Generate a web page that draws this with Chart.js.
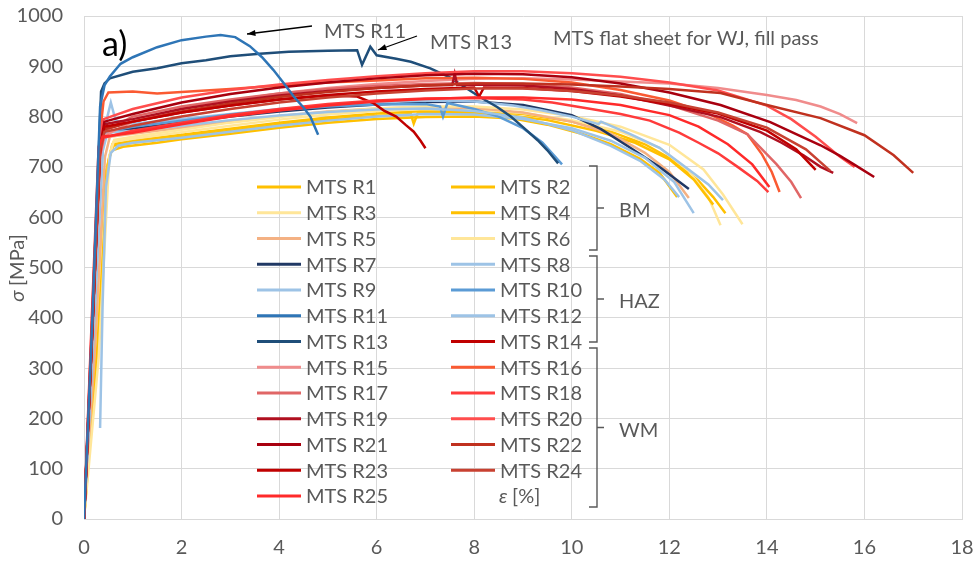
<!DOCTYPE html>
<html>
<head>
<meta charset="utf-8">
<script src="https://cdn.jsdelivr.net/npm/chart.js@4.4.1/dist/chart.umd.min.js"></script>
<style>
  body { margin: 0; background: #fff; }
  #wrap { width: 976px; height: 561px; }
</style>
</head>
<body>
<div id="wrap"><canvas id="grafico" width="976" height="561"></canvas></div>
<script>
// ensayos de traccion MTS, deformacion [%] vs tension [MPa]
const nombres = ["MTS R1","MTS R2","MTS R3","MTS R4","MTS R5","MTS R6","MTS R7","MTS R8","MTS R9","MTS R10",
  "MTS R11","MTS R12","MTS R13","MTS R14","MTS R15","MTS R16","MTS R17","MTS R18","MTS R19","MTS R20",
  "MTS R21","MTS R22","MTS R23","MTS R24","MTS R25"];

const colores = ["#FFC000","#FFC000","#FFE699","#FFC000","#F4B183","#FFE699","#203864","#9DC3E6","#9DC3E6","#5B9BD5",
  "#2E75B6","#9DC3E6","#1F4E79","#C00000","#F08C8C","#FA5A32","#E06666","#FF3B3B","#B01020","#FF4D4D",
  "#A8000F","#C0311F","#C00000","#C84131","#FF2A2A"];

const xTicks = [0, 2, 4, 6, 8, 10, 12, 14, 16, 18];
const yTicks = [0, 100, 200, 300, 400, 500, 600, 700, 800, 900, 1000];

// BM
const r1 = [[0,0],[0.22,300],[0.45,690],[0.55,732],[0.8,740],[1.5,748],[2,755],[3,766],[4,778],[5,788],[6,795],[7,799],[8,800],[8.8,796],[9.5,784],[10.2,766],[10.8,745],[11.4,716],[11.8,688],[12.16,640]];
const r2 = [[0,0],[0.25,320],[0.48,700],[0.58,745],[1,752],[2,764],[3,776],[4,788],[5,798],[6,806],[7,811],[8,811],[9,805],[10,790],[10.8,770],[11.5,745],[12.1,712],[12.6,672],[12.9,640],[13.15,608]];
const r3 = [[0,0],[0.2,280],[0.5,715],[0.6,750],[1,756],[2,769],[3,782],[4,794],[5,804],[6,811],[7,815],[8,814],[9,807],[10,793],[11,770],[11.8,738],[12.4,692],[12.8,640],[13.05,584]];
const r4 = [[0,0],[0.28,350],[0.5,712],[0.6,742],[1,748],[2,760],[3,772],[4,784],[5,794],[6,801],[6.7,805],[6.76,786],[6.84,806],[7.5,808],[8.5,805],[9.5,793],[10.5,772],[11.3,748],[12,715],[12.5,675],[12.9,625]];
const r5 = [[0,0],[0.22,330],[0.43,720],[0.53,760],[1,766],[2,778],[3,790],[4,801],[5,810],[6,816],[7,819],[8,817],[9,808],[10,790],[10.8,766],[11.5,728],[12,690],[12.4,638]];
const r6 = [[0,0],[0.3,320],[0.52,720],[0.62,754],[1,760],[2,774],[3,788],[4,799],[5,809],[6,816],[7,820],[8,820],[9,814],[10,801],[11,780],[12,744],[12.7,695],[13.1,645],[13.5,586]];
// HAZ
const r7 = [[0,0],[0.2,420],[0.36,745],[0.45,768],[1,776],[2,788],[3,800],[4,810],[5,818],[6,824],[7,829],[8,830],[9,823],[10,803],[10.6,775],[11.2,738],[11.8,700],[12.4,656]];
const r8 = [[0,0],[0.22,420],[0.4,760],[0.48,800],[0.55,828],[0.65,792],[1,786],[2,795],[3,805],[4,815],[5,822],[6,828],[7,832],[8,830],[8.8,822],[9.35,813],[10,800],[10.55,785],[10.6,790],[11.2,765],[11.8,738],[12.3,702],[12.8,665],[13.1,634]];
const r9 = [[0.33,181],[0.38,420],[0.45,660],[0.55,728],[0.7,742],[1,748],[2,758],[3,770],[4,782],[5,792],[6,800],[7,805],[8,804],[9,795],[10,777],[10.8,752],[11.5,718],[12.1,670],[12.5,608]];
const r10 = [[0,0],[0.2,390],[0.37,745],[0.47,770],[1,780],[2,792],[3,804],[4,813],[5,820],[6,824],[7,825],[7.3,820],[7.36,800],[7.45,827],[8,815],[8.5,800],[9,777],[9.4,748],[9.8,705]];
const r11 = [[0,0],[0.18,420],[0.33,820],[0.42,862],[0.53,880],[0.75,905],[1,918],[1.5,938],[2,952],[2.5,959],[2.8,962],[3.1,958],[3.4,940],[3.65,918],[3.88,893],[4.1,866],[4.3,840],[4.5,818],[4.64,800],[4.8,764]];
const r12 = [[0,0],[0.2,380],[0.38,730],[0.48,768],[1,772],[2,782],[3,793],[4,802],[5,809],[6,814],[7,816],[8,811],[9,798],[10,773],[10.8,742],[11.4,712],[11.9,675],[12.2,640]];
const r13 = [[0,0],[0.18,420],[0.35,850],[0.42,866],[0.53,876],[1,889],[1.5,896],[2,906],[2.5,912],[3,920],[3.6,925],[4.2,929],[5,931],[5.6,932],[5.7,903],[5.87,939],[6,922],[6.4,915],[6.7,909],[7.1,896],[7.5,878],[7.8,859],[8.1,840],[8.47,819],[8.75,800],[9,779],[9.3,753],[9.5,733],[9.72,707]];
// WM
const r14 = [[0,0],[0.18,400],[0.33,730],[0.42,775],[1,790],[2,808],[3,822],[4,834],[5,842],[5.6,840],[5.93,827],[6.15,812],[6.4,800],[6.6,783],[6.76,770],[6.9,752],[7,737]];
const r15 = [[0,0],[0.18,390],[0.33,720],[0.42,762],[1,790],[2,815],[3,832],[4,846],[5,857],[6,865],[7,871],[8,875],[9,876],[10,874],[11,870],[12,866],[13,857],[14,843],[14.6,833],[15.1,820],[15.5,805],[15.85,787]];
const r16 = [[0,0],[0.18,410],[0.32,760],[0.4,830],[0.5,848],[1,850],[1.5,846],[2,849],[3,855],[4,862],[5,868],[6,872],[7,876],[8,877],[9,875],[10,868],[11,853],[12,832],[12.8,806],[13.3,782],[13.6,765],[13.9,725],[14.1,690],[14.26,650]];
const r17 = [[0,0],[0.18,390],[0.33,730],[0.42,772],[1,800],[2,820],[3,834],[4,846],[5,855],[6,861],[7,865],[8,867],[9,865],[10,858],[11,845],[12,823],[13,792],[13.6,765],[14.2,705],[14.5,670],[14.7,638]];
const r18 = [[0,0],[0.17,390],[0.32,720],[0.4,758],[1,772],[2,788],[3,803],[4,815],[5,825],[6,832],[7,836],[8,837],[9,834],[9.6,828],[10.4,815],[11,805],[11.6,792],[12.2,768],[12.6,748],[13,727],[13.4,700],[13.8,672],[14.03,650]];
const r19 = [[0,0],[0.18,400],[0.33,740],[0.42,785],[1,795],[2,815],[3,830],[4,842],[5,851],[6,857],[7,862],[7.55,863],[7.6,885],[7.65,863],[8,864],[9,862],[10,855],[11,842],[12,822],[13.05,799],[13.87,769],[14.3,748],[14.75,723],[15.1,700],[15.36,688]];
const r20 = [[0,0],[0.17,410],[0.32,760],[0.4,795],[1,815],[2,838],[3,853],[4,864],[5,873],[6,880],[7,886],[8,890],[9,890],[10,886],[11,879],[12,868],[13,852],[14,822],[14.5,795],[15,760],[15.5,720],[15.8,700]];
const r21 = [[0,0],[0.18,400],[0.33,740],[0.42,790],[1,805],[2,828],[3,845],[4,858],[5,868],[6,876],[7,882],[8,885],[9,884],[10,878],[11,866],[12,848],[13.05,823],[14.07,789],[14.6,765],[15.1,743],[15.5,722],[15.8,704],[16.2,680]];
const r22 = [[0,0],[0.18,400],[0.33,735],[0.42,775],[1,790],[2,810],[3,826],[4,839],[5,849],[6,857],[7,862],[8,866],[9,866],[10,864],[11,860],[12,855],[13.05,847],[14,823],[15.1,797],[16,763],[16.6,723],[17,688]];
const r23 = [[0,0],[0.18,400],[0.33,740],[0.42,780],[1,790],[2,808],[3,822],[4,834],[5,843],[6,850],[7,855],[8,858],[8.1,840],[8.2,858],[9,857],[10,851],[11,840],[12,825],[13,806],[14,772],[14.6,735],[15,694]];
const r24 = [[0,0],[0.18,400],[0.33,735],[0.42,770],[1,782],[2,800],[3,815],[4,828],[5,838],[6,846],[7,852],[8,856],[9,856],[10,851],[11,842],[12,828],[13,808],[14,778],[14.8,735],[15.3,692]];
const r25 = [[0,0],[0.16,400],[0.3,740],[0.38,760],[1,768],[2,785],[3,800],[4,812],[5,822],[6,830],[7,835],[8,838],[9,838],[10,834],[11,823],[12,803],[12.6,780],[13.2,745],[13.7,705],[14.05,660]];

const series = [r1,r2,r3,r4,r5,r6,r7,r8,r9,r10,r11,r12,r13,r14,r15,r16,r17,r18,r19,r20,r21,r22,r23,r24,r25];

const grupos = [
  { nombre: "BM", top: 166, bottom: 250 },
  { nombre: "HAZ", top: 256, bottom: 342 },
  { nombre: "WM", top: 348, bottom: 507 }
];

const FUENTE = 'Lato, "Liberation Sans", sans-serif';
const GRIS = "#595959";

function flecha(ctx, x1, y1, x2, y2) {
  ctx.save();
  ctx.strokeStyle = "#000";
  ctx.fillStyle = "#000";
  ctx.lineWidth = 1.3;
  ctx.beginPath();
  ctx.moveTo(x1, y1);
  ctx.lineTo(x2, y2);
  ctx.stroke();
  const ang = Math.atan2(y2 - y1, x2 - x1);
  ctx.beginPath();
  ctx.moveTo(x2, y2);
  ctx.lineTo(x2 - 9 * Math.cos(ang - 0.35), y2 - 9 * Math.sin(ang - 0.35));
  ctx.lineTo(x2 - 9 * Math.cos(ang + 0.35), y2 - 9 * Math.sin(ang + 0.35));
  ctx.closePath();
  ctx.fill();
  ctx.restore();
}

const extras = {
  id: "extras",
  afterDraw(chart) {
    const ctx = chart.ctx;
    ctx.save();
    ctx.textBaseline = "middle";
    ctx.textAlign = "left";

    // leyenda en dos columnas
    chart.data.datasets.forEach((ds, i) => {
      const fila = Math.floor(i / 2);
      const x0 = i % 2 === 0 ? 257 : 451;
      const y = 187 + fila * 25.75;
      ctx.strokeStyle = ds.borderColor;
      ctx.lineWidth = 3;
      ctx.beginPath();
      ctx.moveTo(x0, y);
      ctx.lineTo(x0 + 44, y);
      ctx.stroke();
      ctx.fillStyle = GRIS;
      ctx.font = "20px " + FUENTE;
      ctx.fillText(ds.label, x0 + 49, y + 1);
    });

    // titulo eje x dentro de la leyenda
    ctx.fillStyle = GRIS;
    ctx.font = "italic 20px " + FUENTE;
    ctx.fillText("ε", 499, 497);
    let w = ctx.measureText("ε ").width;
    ctx.font = "20px " + FUENTE;
    ctx.fillText("[%]", 499 + w, 497);

    // llaves de grupos
    ctx.strokeStyle = GRIS;
    ctx.lineWidth = 1.4;
    grupos.forEach(g => {
      const mid = (g.top + g.bottom) / 2;
      ctx.beginPath();
      ctx.moveTo(589, g.top);
      ctx.lineTo(597, g.top);
      ctx.lineTo(597, g.bottom);
      ctx.lineTo(589, g.bottom);
      ctx.moveTo(597, mid);
      ctx.lineTo(604, mid);
      ctx.stroke();
      ctx.font = "20px " + FUENTE;
      ctx.fillText(g.nombre, 619, mid + 3);
    });

    // anotaciones
    ctx.font = "20px " + FUENTE;
    ctx.fillText("MTS R11", 324, 32);
    ctx.fillText("MTS R13", 430, 43);
    ctx.fillText("MTS flat sheet for WJ, fill pass", 553, 39);
    ctx.fillStyle = "#000";
    ctx.font = "34px " + FUENTE;
    ctx.textBaseline = "alphabetic";
    ctx.fillText("a)", 102, 56);
    flecha(ctx, 312, 26, 247, 34);
    flecha(ctx, 417, 36, 378, 50);

    // titulo eje y
    ctx.translate(18, 268);
    ctx.rotate(-Math.PI / 2);
    ctx.fillStyle = GRIS;
    ctx.textBaseline = "middle";
    ctx.font = "italic 20px " + FUENTE;
    const a = ctx.measureText("σ ").width;
    ctx.font = "20px " + FUENTE;
    const b = ctx.measureText("[MPa]").width;
    const x = -(a + b) / 2;
    ctx.font = "italic 20px " + FUENTE;
    ctx.fillText("σ", x, 0);
    ctx.font = "20px " + FUENTE;
    ctx.fillText("[MPa]", x + a, 0);
    ctx.restore();
  }
};

const datasets = series.map((d, i) => ({
  label: nombres[i],
  data: d,
  borderColor: colores[i],
  backgroundColor: colores[i],
  borderWidth: 2.5,
  pointRadius: 0,
  tension: 0,
  fill: false,
  order: i === 10 ? 0 : series.length - i
}));

new Chart(document.getElementById("grafico"), {
  type: "line",
  data: { datasets },
  plugins: [extras],
  options: {
    responsive: false,
    animation: false,
    devicePixelRatio: 1,
    layout: { padding: { top: 16, right: 14, left: 0, bottom: 0 } },
    plugins: { legend: { display: false }, tooltip: { enabled: false } },
    scales: {
      x: {
        type: "linear",
        min: 0,
        max: 18,
        afterBuildTicks: s => { s.ticks = xTicks.map(v => ({ value: v })); },
        afterFit: s => { s.height = 42; s.paddingLeft = 0; s.paddingRight = 0; },
        grid: { color: "#d9d9d9", drawTicks: false },
        border: { color: "#d9d9d9" },
        ticks: { color: GRIS, font: { family: FUENTE, size: 20 }, padding: 17, maxRotation: 0, callback: v => String(v) }
      },
      y: {
        min: 0,
        max: 1000,
        afterBuildTicks: s => { s.ticks = yTicks.map(v => ({ value: v })); },
        afterFit: s => { s.width = 84; s.paddingTop = 0; s.paddingBottom = 0; },
        grid: { color: "#d9d9d9", drawTicks: false },
        border: { color: "#d9d9d9" },
        ticks: { color: GRIS, font: { family: FUENTE, size: 20 }, padding: 21, callback: v => String(v) }
      }
    }
  }
});
</script>
</body>
</html>
